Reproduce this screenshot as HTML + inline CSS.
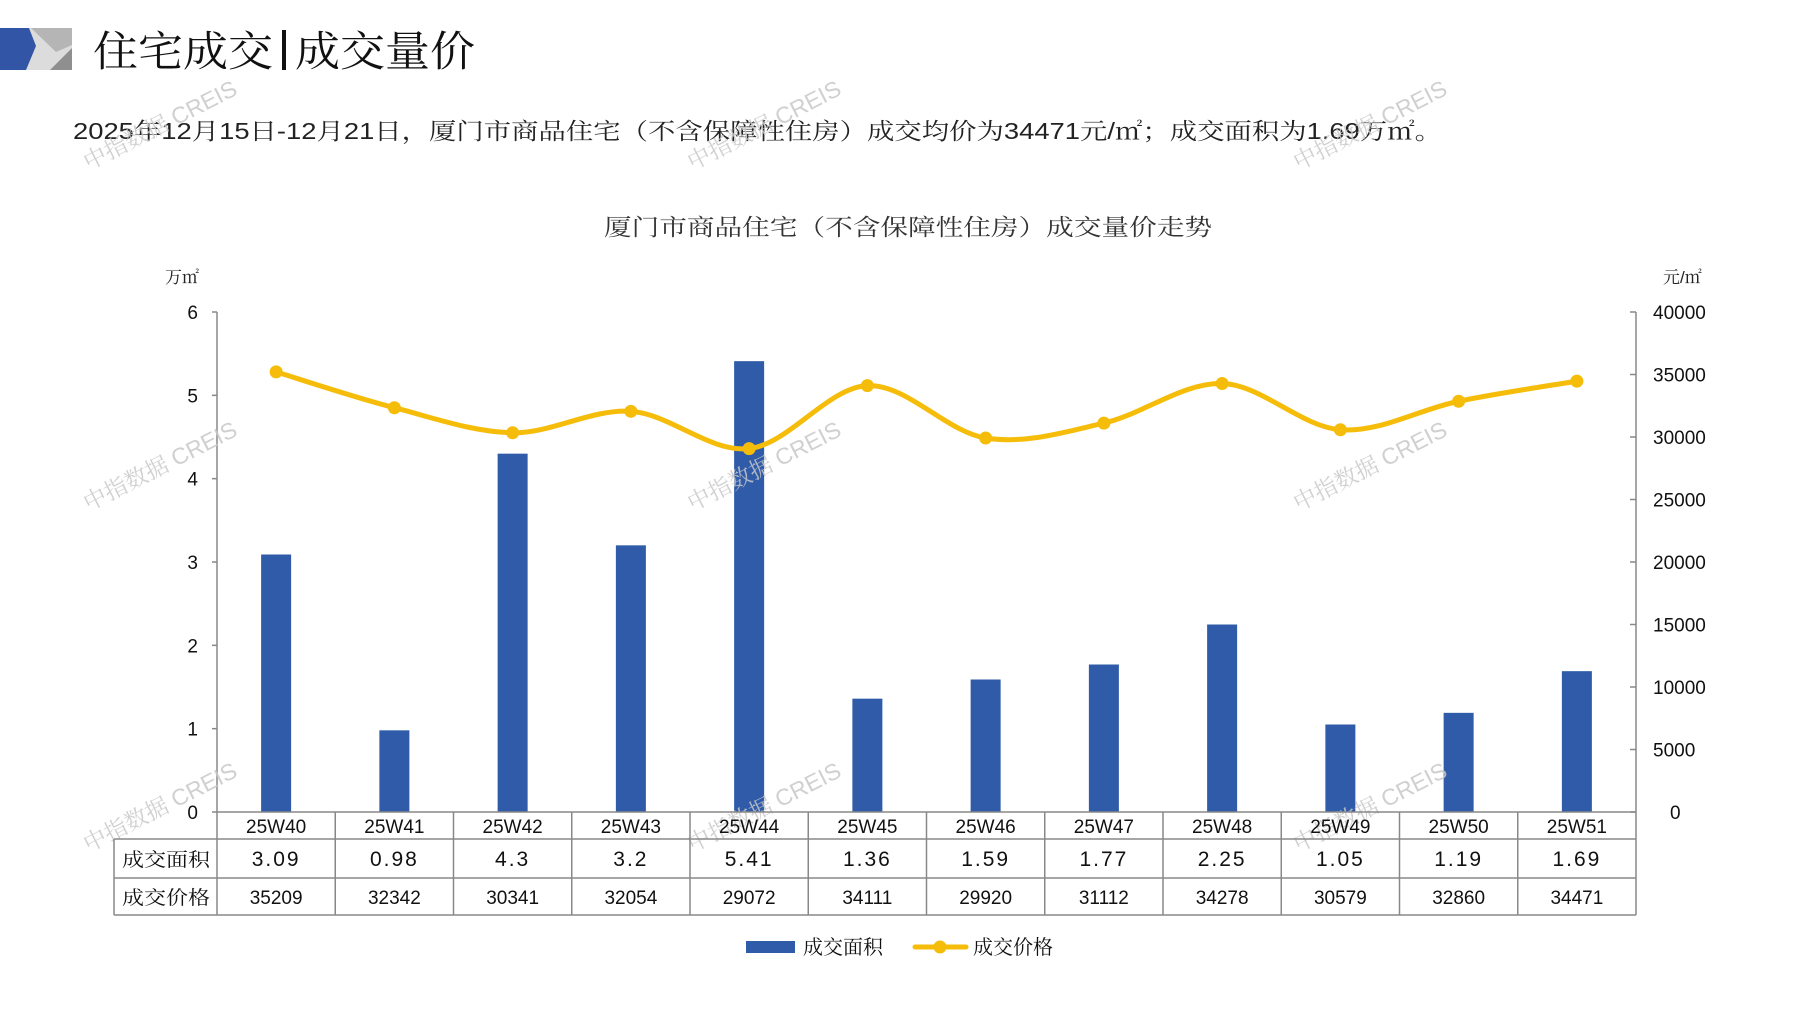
<!DOCTYPE html>
<html><head><meta charset="utf-8">
<style>
html,body{margin:0;padding:0;background:#fff;}
svg{display:block;}
text{font-family:"Liberation Sans","Noto Serif CJK SC",serif;}
.cn{font-family:"Noto Serif CJK SC","Noto Sans CJK SC",serif;}
</style></head>
<body>
<svg id="s" width="1797" height="1010" viewBox="0 0 1797 1010" xmlns="http://www.w3.org/2000/svg">
<rect x="0" y="28" width="72" height="42" fill="#dcdcdc"/>
<polygon points="0,28 29,28 36,46 26,70 0,70" fill="#3355a5"/>
<polygon points="31,28 72,28 72,45 56,52" fill="#b5b5b5"/>
<polygon points="50,70 72,48 72,70" fill="#8f8f8f"/>
<text x="93" y="66" class="cn" font-size="42" fill="#111" textLength="180" lengthAdjust="spacingAndGlyphs">住宅成交</text>
<rect x="282" y="30" width="4" height="40" fill="#111"/>
<text x="295" y="66" class="cn" font-size="42" fill="#111" textLength="180" lengthAdjust="spacingAndGlyphs">成交量价</text>
<text x="73" y="139" font-size="23" fill="#222" textLength="1369" lengthAdjust="spacingAndGlyphs">2025年12月15日-12月21日，厦门市商品住宅（不含保障性住房）成交均价为34471元/㎡；成交面积为1.69万㎡。</text>
<text x="604" y="235" class="cn" font-size="23" fill="#333" textLength="608" lengthAdjust="spacingAndGlyphs">厦门市商品住宅（不含保障性住房）成交量价走势</text>
<text x="165" y="283" font-size="17" fill="#222">万㎡</text>
<text x="1663" y="283" font-size="17" fill="#222">元/㎡</text>
<g id="g"></g>
</svg>
<script>
var g=document.getElementById('g');var h='';
var L=217,R=1636,Y0=812,W=(R-L)/12;
var area=[3.09,0.98,4.3,3.2,5.41,1.36,1.59,1.77,2.25,1.05,1.19,1.69];
var price=[35209,32342,30341,32054,29072,34111,29920,31112,34278,30579,32860,34471];
var lab=['25W40','25W41','25W42','25W43','25W44','25W45','25W46','25W47','25W48','25W49','25W50','25W51'];
var areaTxt=['3.09','0.98','4.3','3.2','5.41','1.36','1.59','1.77','2.25','1.05','1.19','1.69'];
h+='<line x1="'+L+'" y1="312" x2="'+L+'" y2="'+Y0+'" stroke="#888" stroke-width="1.5"/>';
h+='<line x1="'+R+'" y1="312" x2="'+R+'" y2="'+Y0+'" stroke="#888" stroke-width="1.5"/>';
for(var i=0;i<=6;i++){var y=Y0-i*500/6;
 h+='<line x1="'+(L-5)+'" y1="'+y+'" x2="'+L+'" y2="'+y+'" stroke="#888" stroke-width="1.5"/>';
 h+='<text x="198" y="'+(y+7)+'" font-size="19" text-anchor="end" fill="#111">'+i+'</text>';}
for(var i=0;i<=8;i++){var y=Y0-i*500/8;
 h+='<line x1="'+(R-6)+'" y1="'+y+'" x2="'+R+'" y2="'+y+'" stroke="#888" stroke-width="1.5"/>';
 h+='<text x="'+(i==0?1670:1653)+'" y="'+(y+7)+'" font-size="19" fill="#111">'+(i*5000)+'</text>';}
for(var i=0;i<12;i++){var cx=L+W*(i+0.5);var bh=area[i]*500/6;
 h+='<rect x="'+(cx-15)+'" y="'+(Y0-bh)+'" width="30" height="'+bh+'" fill="#2f5ba8"/>';}
var wx=[160,764,1370],wy=[125,466,807];
for(var a=0;a<3;a++)for(var b=0;b<3;b++){
 h+='<text x="'+wx[a]+'" y="'+(wy[b]+8)+'" font-size="23" fill="#c8c8c8" fill-opacity="0.85" text-anchor="middle" transform="rotate(-27 '+wx[a]+' '+wy[b]+')" font-family="Liberation Sans,Noto Sans CJK SC,sans-serif">中指数据 CREIS</text>';}
var P=[];for(var i=0;i<12;i++)P.push([L+W*(i+0.5),Y0-price[i]*0.0125]);
var d='M'+P[0][0]+','+P[0][1];
for(var i=0;i<11;i++){var p0=P[i-1]||P[i],p1=P[i],p2=P[i+1],p3=P[i+2]||P[i+1];var t=6;
 d+=' C'+(p1[0]+(p2[0]-p0[0])/t)+','+(p1[1]+(p2[1]-p0[1])/t)+' '+(p2[0]-(p3[0]-p1[0])/t)+','+(p2[1]-(p3[1]-p1[1])/t)+' '+p2[0]+','+p2[1];}
h+='<path d="'+d+'" fill="none" stroke="#f5bd0a" stroke-width="5" stroke-linecap="round"/>';
for(var i=0;i<12;i++)h+='<circle cx="'+P[i][0]+'" cy="'+P[i][1]+'" r="6.5" fill="#f5bd0a"/>';
var T1=839,T2=878,T3=915,TL=114;
h+='<g stroke="#888" stroke-width="1.5">';
h+='<line x1="'+L+'" y1="'+Y0+'" x2="'+R+'" y2="'+Y0+'"/>';
h+='<line x1="'+TL+'" y1="'+T1+'" x2="'+R+'" y2="'+T1+'"/>';
h+='<line x1="'+TL+'" y1="'+T2+'" x2="'+R+'" y2="'+T2+'"/>';
h+='<line x1="'+TL+'" y1="'+T3+'" x2="'+R+'" y2="'+T3+'"/>';
h+='<line x1="'+TL+'" y1="'+T1+'" x2="'+TL+'" y2="'+T3+'"/>';
for(var i=0;i<=12;i++){var x=L+W*i;h+='<line x1="'+x+'" y1="'+Y0+'" x2="'+x+'" y2="'+T3+'"/>';}
h+='</g>';
h+='<text x="122" y="866" class="cn" font-size="19" fill="#111" textLength="88" lengthAdjust="spacingAndGlyphs">成交面积</text>';
h+='<text x="122" y="904" class="cn" font-size="19" fill="#111" textLength="88" lengthAdjust="spacingAndGlyphs">成交价格</text>';
for(var i=0;i<12;i++){var cx=L+W*(i+0.5);
 h+='<text x="'+cx+'" y="'+(Y0+21)+'" font-size="19" text-anchor="middle" fill="#111">'+lab[i]+'</text>';
 h+='<text x="'+cx+'" y="866" font-size="21" text-anchor="middle" fill="#111" letter-spacing="2">'+areaTxt[i]+'</text>';
 h+='<text x="'+cx+'" y="904" font-size="19" text-anchor="middle" fill="#111">'+price[i]+'</text>';}
h+='<rect x="746" y="941" width="49" height="12" fill="#2f5ba8"/>';
h+='<text x="803" y="954" class="cn" font-size="20" fill="#111">成交面积</text>';
h+='<line x1="915" y1="947" x2="966" y2="947" stroke="#f5bd0a" stroke-width="5" stroke-linecap="round"/>';
h+='<circle cx="940" cy="947" r="6.5" fill="#f5bd0a"/>';
h+='<text x="973" y="954" class="cn" font-size="20" fill="#111">成交价格</text>';
g.innerHTML=h;
</script>
</body></html>
